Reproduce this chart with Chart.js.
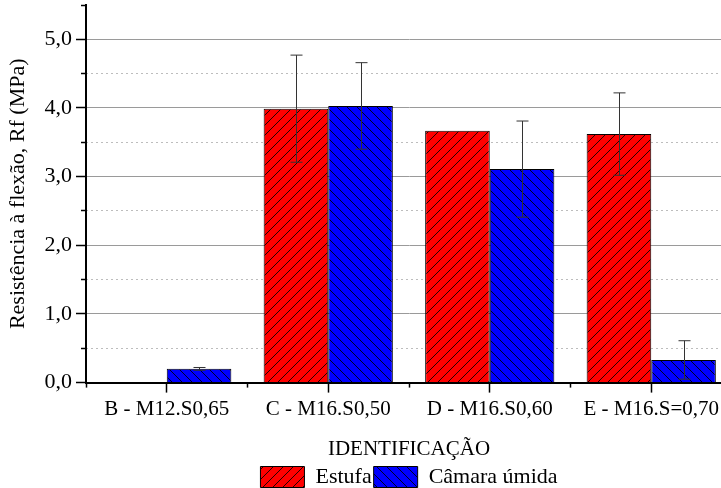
<!DOCTYPE html>
<html>
<head>
<meta charset="utf-8">
<script src="https://cdn.jsdelivr.net/npm/chart.js@4/dist/chart.umd.min.js"></script>
<style>
  html, body { margin: 0; padding: 0; background: #fff; overflow: hidden; }
  #wrap { width: 721px; height: 488px; overflow: hidden; }
</style>
</head>
<body>
<div id="wrap"><canvas id="chart" width="732" height="488"></canvas></div>
<script>
// dados
const categories = ['B - M12.S0,65', 'C - M16.S0,50', 'D - M16.S0,60', 'E - M16.S=0,70']
const estufa = [null, 3.99, 3.67, 3.62]
const estufaErr = [0, 0.78, 0, 0.60]
const camara = [0.20, 4.03, 3.11, 0.33]
const camaraErr = [0.02, 0.63, 0.70, 0.28]
const yTicks = [0, 1, 2, 3, 4, 5]
const yMinorTicks = [0.5, 1.5, 2.5, 3.5, 4.5, 5.5]

const serif = '"Liberation Serif", "Times New Roman", serif'

// padrao hachurado
function hatch(color, dir) {
  const c = document.createElement('canvas')
  c.width = 10
  c.height = 10
  const g = c.getContext('2d')
  g.fillStyle = color
  g.fillRect(0, 0, 10, 10)
  g.strokeStyle = 'rgba(0,0,0,0.85)'
  g.lineWidth = 1
  g.beginPath()
  if (dir === '/') {
    g.moveTo(-5, 15); g.lineTo(15, -5)
    g.moveTo(-5, 5); g.lineTo(5, -5)
    g.moveTo(5, 15); g.lineTo(15, 5)
  } else {
    g.moveTo(-5, -5); g.lineTo(15, 15)
    g.moveTo(5, -5); g.lineTo(15, 5)
    g.moveTo(-5, 5); g.lineTo(5, 15)
  }
  g.stroke()
  return g.createPattern(c, 'repeat')
}

// barras de erro
const errorBars = {
  id: 'errorBars',
  afterDatasetsDraw(chart) {
    const ctx = chart.ctx
    const y = chart.scales.y
    const errs = [estufaErr, camaraErr]
    ctx.save()
    ctx.strokeStyle = '#333'
    ctx.lineWidth = 1
    chart.data.datasets.forEach((ds, di) => {
      const meta = chart.getDatasetMeta(di)
      meta.data.forEach((bar, i) => {
        const v = ds.data[i]
        const e = errs[di][i]
        if (v == null || !e) return
        const x = Math.round(bar.x) + 0.5
        const top = y.getPixelForValue(v + e)
        const bot = y.getPixelForValue(v - e)
        ctx.beginPath()
        ctx.moveTo(x, top); ctx.lineTo(x, bot)
        ctx.moveTo(x - 6, top); ctx.lineTo(x + 6, top)
        ctx.moveTo(x - 6, bot); ctx.lineTo(x + 6, bot)
        ctx.stroke()
      })
    })
    ctx.restore()
  }
}

const chart = new Chart(document.getElementById('chart'), {
  type: 'bar',
  data: {
    labels: categories,
    datasets: [
      {
        label: 'Estufa',
        data: estufa,
        backgroundColor: hatch('#ff0000', '/'),
        borderColor: '#000',
        borderWidth: 1,
        categoryPercentage: 0.8,
        barPercentage: 1.0
      },
      {
        label: 'Câmara úmida',
        data: camara,
        backgroundColor: hatch('#0000ff', '\\'),
        borderColor: '#000',
        borderWidth: 1,
        categoryPercentage: 0.8,
        barPercentage: 1.0
      }
    ]
  },
  options: {
    responsive: false,
    animation: false,
    layout: { padding: { top: 5, right: 0, bottom: -10, left: 0 } },
    plugins: {
      tooltip: { enabled: false },
      legend: {
        position: 'bottom',
        fullSize: false,
        labels: {
          boxWidth: 44,
          boxHeight: 21,
          padding: 2,
          color: '#000',
          font: { family: serif, size: 22 }
        }
      }
    },
    scales: {
      x: {
        weight: 1,
        grid: {
          offset: false,
          drawOnChartArea: false,
          tickLength: 10,
          tickColor: '#000',
          tickWidth: 1.5
        },
        border: { color: '#000', width: 2 },
        ticks: { color: '#000', padding: 4, maxRotation: 0, font: { family: serif, size: 21 } },
        title: {
          display: true,
          text: 'IDENTIFICAÇÃO',
          color: '#000',
          padding: { top: 11, bottom: 2 },
          font: { family: serif, size: 21 }
        }
      },
      // marcas menores entre categorias
      x2: {
        type: 'category',
        position: 'bottom',
        weight: 0,
        afterFit: (scale) => { scale.height = 0 },
        ticks: { display: false },
        grid: {
          offset: true,
          drawOnChartArea: false,
          tickLength: 5,
          tickColor: '#000',
          tickWidth: 1.5
        },
        border: { display: false }
      },
      y: {
        position: 'left',
        weight: 1,
        min: 0,
        max: 5.5,
        afterBuildTicks: (scale) => { scale.ticks = yTicks.map(v => ({ value: v })) },
        afterFit: (scale) => {
          scale.width = 86
          scale.paddingTop = 0
          scale.paddingBottom = 0
        },
        grid: {
          color: '#9a9a9a',
          lineWidth: 1,
          tickLength: 10,
          tickColor: '#000',
          tickWidth: 1.5
        },
        border: { color: '#000', width: 2 },
        ticks: {
          color: '#000',
          padding: 4,
          font: { family: serif, size: 22 },
          callback: (v) => Number(v).toFixed(1).replace('.', ',')
        },
        title: {
          display: true,
          text: 'Resistência à flexão, Rf (MPa)',
          color: '#000',
          padding: { top: 5, bottom: 0 },
          font: { family: serif, size: 22 }
        }
      },
      // grade pontilhada e marcas menores
      y2: {
        position: 'left',
        weight: 0,
        min: 0,
        max: 5.5,
        afterBuildTicks: (scale) => { scale.ticks = yMinorTicks.map(v => ({ value: v })) },
        afterFit: (scale) => {
          scale.width = 0
          scale.paddingTop = 0
          scale.paddingBottom = 0
        },
        ticks: { display: false },
        grid: {
          color: (ctx) => ctx.tick && ctx.tick.value > 5 ? 'rgba(0,0,0,0)' : '#bdbdbd',
          lineWidth: 1,
          tickLength: 5,
          tickColor: '#000',
          tickWidth: 1.5
        },
        border: { display: false, dash: [2, 3] }
      }
    }
  },
  plugins: [errorBars]
})
</script>
</body>
</html>
